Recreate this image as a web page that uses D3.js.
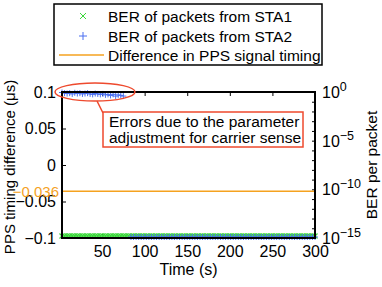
<!DOCTYPE html>
<html>
<head>
<meta charset="utf-8">
<script src="https://cdn.jsdelivr.net/npm/d3@7"></script>
<style>
  body { margin: 0; background: #fff; }
  svg text { font-family: "Liberation Sans", Arial, sans-serif; }
</style>
</head>
<body>
<svg id="chart" width="382" height="287"></svg>
<script>
// time stamps (s) of the packets
const sta1Time = [3,6,9,12,15,18,21,24,27,30,33,36,39,42,45,48,51,54,57,60,63,66,69,72,75,78,81,84,87,90,
  93,96,99,102,105,108,111,114,117,120,123,126,129,132,135,138,141,144,147,150,153,156,159,162,165,168,171,174,177,180,
  183,186,189,192,195,198,201,204,207,210,213,216,219,222,225,228,231,234,237,240,243,246,249,252,255,258,261,264,267,270,
  273,276,279,282,285,288,291,294,297,300]
// no bit errors for STA1 (0 is drawn at the floor of the log axis)
const sta1Ber = [0,0,0,0,0,0,0,0,0,0,0,0,0,0,0,0,0,0,0,0,0,0,0,0,0,0,0,0,0,0,
  0,0,0,0,0,0,0,0,0,0,0,0,0,0,0,0,0,0,0,0,0,0,0,0,0,0,0,0,0,0,
  0,0,0,0,0,0,0,0,0,0,0,0,0,0,0,0,0,0,0,0,0,0,0,0,0,0,0,0,0,0,
  0,0,0,0,0,0,0,0,0,0]
const sta2Time = [3,6,9,12,15,18,21,24,27,30,33,36,39,42,45,48,51,54,57,60,63,66,69,72,75,
  84,87,90,93,96,99,102,105,108,111,114,117,120,123,126,129,132,135,138,141,144,147,150,153,156,159,162,165,168,171,174,177,180,
  183,186,189,192,195,198,201,204,207,210,213,216,219,222,225,228,231,234,237,240,243,246,249,252,255,258,261,264,267,270,
  273,276,279,282,285,288,291,294,297,300]
const sta2Ber = [0.7,0.6,0.55,0.6,0.5,0.65,0.55,0.6,0.5,0.55,0.6,0.5,0.45,0.55,0.5,0.45,0.5,0.4,0.45,0.35,0.45,0.3,0.4,0.35,0.3,
  0,0,0,0,0,0,0,0,0,0,0,0,0,0,0,0,0,0,0,0,0,0,0,0,0,0,0,0,0,0,0,0,0,
  0,0,0,0,0,0,0,0,0,0,0,0,0,0,0,0,0,0,0,0,0,0,0,0,0,0,0,0,0,0,
  0,0,0,0,0,0,0,0,0,0]
const ppsTime = [3, 300]
const ppsDiff = [-0.036, -0.036]

const leftTicks = [-0.1, -0.05, 0, 0.05, 0.1]
const timeTicks = [50, 100, 150, 200, 250, 300]
const berTicks = [0, -5, -10, -15] // exponents
const berFloor = 1e-15

const green = '#3ad83a', blue = '#4a6ff0', orange = '#f5a21f', red = '#ee4a2e'

const svg = d3.select('#chart')
const L = 62, R = 315, T = 92, B = 238

const x = d3.scaleLinear().domain([3, 300]).range([L, R])
const yL = d3.scaleLinear().domain([-0.1, 0.1]).range([B, T])
const yR = d3.scaleLog().domain([berFloor, 1]).range([B, T])
const minus = s => s.replace('-', '\u2212')

// axis titles (drawn first, the orange label sits on top)
svg.append('text').attr('transform', `translate(15,${(T + B) / 2 + 2}) rotate(-90)`)
  .attr('text-anchor', 'middle').attr('font-size', 15).text('PPS timing difference (\u03bcs)')
svg.append('text').attr('transform', `translate(377,${(T + B) / 2}) rotate(-90)`)
  .attr('text-anchor', 'middle').attr('font-size', 15.5).text('BER per packet')
svg.append('text').attr('x', (L + R) / 2).attr('y', 275)
  .attr('text-anchor', 'middle').attr('font-size', 16).text('Time (s)')

// axes
const gx = svg.append('g').attr('transform', `translate(0,${B})`)
  .call(d3.axisBottom(x).tickValues(timeTicks).tickSize(-4).tickPadding(8))
gx.select('.domain').remove()
gx.selectAll('text').attr('font-size', 16).attr('fill', '#000')
svg.append('g').attr('transform', `translate(0,${T})`)
  .call(d3.axisTop(x).tickValues(timeTicks).tickSize(-4).tickFormat(''))
  .select('.domain').remove()

const gl = svg.append('g').attr('transform', `translate(${L},0)`)
  .call(d3.axisLeft(yL).tickValues(leftTicks).tickSize(-4).tickPadding(6)
    .tickFormat(d => minus(String(d))))
gl.select('.domain').remove()
gl.selectAll('text').attr('font-size', 16).attr('fill', '#000')

// right log axis: tick every decade, labels every 5 decades
const decades = d3.range(-15, 1).map(e => Math.pow(10, e))
svg.append('g').attr('transform', `translate(${R},0)`)
  .call(d3.axisRight(yR).tickValues(decades).tickSize(-3).tickFormat(''))
  .select('.domain').remove()
const rl = svg.append('g')
berTicks.forEach(e => {
  const t = rl.append('text').attr('x', R + 7).attr('y', yR(Math.pow(10, e)) + 6)
    .attr('font-size', 16)
  t.append('tspan').text('10')
  t.append('tspan').attr('dy', -7).attr('font-size', 12.5).text(minus(String(e)))
})

// PPS difference line
svg.append('path')
  .datum(ppsTime.map((t, i) => [t, ppsDiff[i]]))
  .attr('fill', 'none').attr('stroke', orange).attr('stroke-width', 1.5)
  .attr('d', d3.line().x(d => x(d[0])).y(d => yL(d[1])))
svg.append('text').attr('x', L - 3).attr('y', yL(ppsDiff[0]) + 6)
  .attr('text-anchor', 'end').attr('font-size', 15).attr('fill', orange)
  .text(minus(String(ppsDiff[0])))

// markers
const berY = b => yR(Math.max(b, berFloor)) - 2
const s1 = svg.append('g').attr('stroke', green).attr('stroke-width', 1.2)
sta1Time.forEach((t, i) => {
  const cx = x(t), cy = berY(sta1Ber[i]), r = 2.5
  s1.append('path').attr('d', `M${cx - r},${cy - r}L${cx + r},${cy + r}M${cx - r},${cy + r}L${cx + r},${cy - r}`)
})
const s2 = svg.append('g').attr('stroke', blue).attr('stroke-width', 1)
sta2Time.forEach((t, i) => {
  const cx = x(t), cy = berY(sta2Ber[i]) + 1, r = 3
  s2.append('path').attr('d', `M${cx - r},${cy}L${cx + r},${cy}M${cx},${cy - r}L${cx},${cy + r}`)
})

// box
svg.append('rect').attr('x', L).attr('y', T).attr('width', R - L).attr('height', B - T)
  .attr('fill', 'none').attr('stroke', '#000').attr('stroke-width', 2)

// annotation
svg.append('ellipse').attr('cx', 95).attr('cy', 92).attr('rx', 40).attr('ry', 9)
  .attr('fill', 'none').attr('stroke', red).attr('stroke-width', 1.5)
svg.append('line').attr('x1', 97).attr('y1', 101).attr('x2', 103).attr('y2', 113)
  .attr('stroke', red).attr('stroke-width', 1.5)
svg.append('rect').attr('x', 103).attr('y', 112).attr('width', 200).attr('height', 35)
  .attr('fill', '#fff').attr('stroke', red).attr('stroke-width', 1.5)
svg.append('text').attr('x', 109).attr('y', 127).attr('font-size', 15.5).text('Errors due to the parameter')
svg.append('text').attr('x', 109).attr('y', 143).attr('font-size', 15.5).text('adjustment for carrier sense')

// legend
const lg = svg.append('g')
lg.append('rect').attr('x', 54).attr('y', 4).attr('width', 268).attr('height', 61)
  .attr('fill', '#fff').attr('stroke', '#000').attr('stroke-width', 1.5)
const rows = [
  { label: 'BER of packets from STA1', y: 16, kind: 'x' },
  { label: 'BER of packets from STA2', y: 36, kind: '+' },
  { label: 'Difference in PPS signal timing', y: 55, kind: 'line' }
]
rows.forEach(r => {
  if (r.kind === 'x') {
    lg.append('path').attr('d', `M80,${r.y - 3}L86,${r.y + 3}M80,${r.y + 3}L86,${r.y - 3}`).attr('stroke', green)
  } else if (r.kind === '+') {
    lg.append('path').attr('d', `M79,${r.y}L87,${r.y}M83,${r.y - 4}L83,${r.y + 4}`).attr('stroke', blue)
  } else {
    lg.append('line').attr('x1', 59).attr('x2', 104).attr('y1', r.y).attr('y2', r.y)
      .attr('stroke', orange).attr('stroke-width', 1.5)
  }
  lg.append('text').attr('x', 108).attr('y', r.y + 6).attr('font-size', 15.5).text(r.label)
})
</script>
</body>
</html>
